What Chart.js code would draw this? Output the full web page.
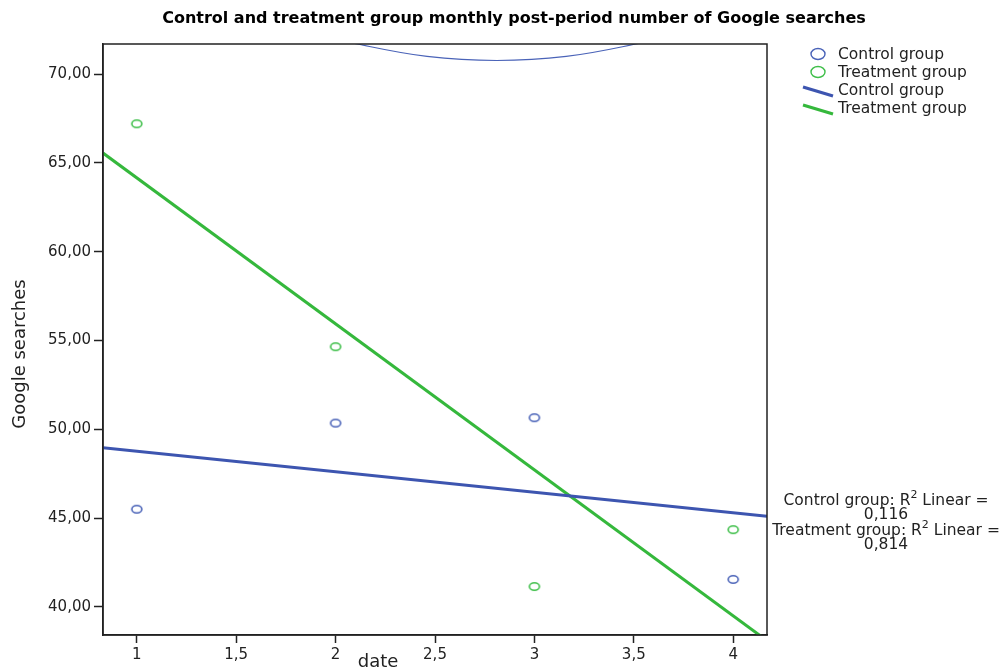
<!DOCTYPE html>
<html>
<head>
<meta charset="utf-8">
<script src="https://cdn.jsdelivr.net/npm/chart.js@4.4.1/dist/chart.umd.min.js"></script>
<style>
body{margin:0;background:#fff;}
</style>
</head>
<body>
<canvas id="chart" width="1003" height="670"></canvas>
<script>
// data
const dates=[1,2,3,4];
const controlVals=[45.5,50.35,50.65,41.55];
const treatmentVals=[67.2,54.65,41.15,44.35];
// fitted lines, ends at the plot edges
const fitX=[0.83,4.17];
const controlFit=[48.96,45.1];
const treatmentFit=[65.55,38.1];
// blue arc at the top of the plot
const arcX=[1.95,2.11,2.46,2.81,3.16,3.51,3.67];
const arcY=[72.16,71.69,70.99,70.76,70.99,71.69,72.16];
const xTicks=[1,1.5,2,2.5,3,3.5,4];
const yTicks=[40,45,50,55,60,65,70];
const controlR2='0,116';
const treatmentR2='0,814';

const blue='#4a63b8';
const green='#3fbf4a';
const blueLine='#3d55b0';
const greenLine='#35b83c';
const font='"DejaVu Sans", sans-serif';

function ring(color){
    const c=document.createElement('canvas');
    c.width=14;c.height=11;
    const g=c.getContext('2d');
    g.strokeStyle=color;g.lineWidth=1.6;
    g.beginPath();g.ellipse(7,5.5,5,3.8,0,0,Math.PI*2);g.stroke();
    return c;
}

const pts=(xs,ys)=>xs.map((x,i)=>({x:x,y:ys[i]}));

const extras={
    id:'extras',
    afterDraw(chart){
        const ctx=chart.ctx;
        const a=chart.chartArea;
        ctx.save();
        // frame
        ctx.strokeStyle='#222';
        ctx.lineWidth=1.5;
        ctx.strokeRect(a.left,a.top,a.right-a.left,a.bottom-a.top);
        // title
        ctx.fillStyle='#000';
        ctx.font='bold 16px '+font;
        ctx.textAlign='center';
        ctx.textBaseline='middle';
        ctx.fillText('Control and treatment group monthly post-period number of Google searches',514,19);
        // axis titles
        ctx.fillStyle='#222';
        ctx.font='18px '+font;
        ctx.textBaseline='top';
        ctx.fillText('date',378,653);
        ctx.save();
        ctx.translate(20,354);
        ctx.rotate(-Math.PI/2);
        ctx.textBaseline='middle';
        ctx.fillText('Google searches',0,0);
        ctx.restore();
        // legend
        ctx.font='15.5px '+font;
        ctx.textAlign='left';
        ctx.textBaseline='middle';
        ctx.lineWidth=1.4;
        ctx.strokeStyle=blue;
        ctx.beginPath();ctx.ellipse(818,54,7,5.5,0,0,Math.PI*2);ctx.stroke();
        ctx.strokeStyle=green;
        ctx.beginPath();ctx.ellipse(818,72,7,5.5,0,0,Math.PI*2);ctx.stroke();
        ctx.lineWidth=3;
        ctx.strokeStyle=blueLine;
        ctx.beginPath();ctx.moveTo(803,87);ctx.lineTo(833,96);ctx.stroke();
        ctx.strokeStyle=greenLine;
        ctx.beginPath();ctx.moveTo(803,105);ctx.lineTo(833,114);ctx.stroke();
        ctx.fillStyle='#222';
        ctx.fillText('Control group',838,55);
        ctx.fillText('Treatment group',838,73);
        ctx.fillText('Control group',838,91);
        ctx.fillText('Treatment group',838,109);
        // R2 notes
        function r2line(label,y){
            ctx.font='15.5px '+font;
            const w1=ctx.measureText(label+': R').width;
            const w3=ctx.measureText(' Linear =').width;
            ctx.font='11px '+font;
            const w2=ctx.measureText('2').width;
            const x0=886-(w1+w2+w3)/2;
            ctx.textAlign='left';
            ctx.font='15.5px '+font;
            ctx.fillText(label+': R',x0,y);
            ctx.fillText(' Linear =',x0+w1+w2,y);
            ctx.font='11px '+font;
            ctx.fillText('2',x0+w1,y-6);
        }
        r2line('Control group',501);
        ctx.font='15.5px '+font;ctx.textAlign='center';
        ctx.fillText(controlR2,886,515);
        r2line('Treatment group',531);
        ctx.font='15.5px '+font;ctx.textAlign='center';
        ctx.fillText(treatmentR2,886,545);
        ctx.restore();
    }
};

new Chart(document.getElementById('chart'),{
    type:'scatter',
    data:{
        datasets:[
            {data:pts(arcX,arcY),showLine:true,tension:0.4,borderColor:blue,borderWidth:1.2,pointRadius:0},
            {data:pts(fitX,controlFit),showLine:true,borderColor:blueLine,borderWidth:3,pointRadius:0},
            {data:pts(fitX,treatmentFit),showLine:true,borderColor:greenLine,borderWidth:3,pointRadius:0},
            {data:pts(dates,controlVals),pointStyle:ring(blue),pointRadius:6},
            {data:pts(dates,treatmentVals),pointStyle:ring(green),pointRadius:6}
        ]
    },
    options:{
        responsive:false,
        devicePixelRatio:1,
        animation:false,
        layout:{padding:{top:44,right:236,left:0,bottom:0}},
        plugins:{legend:{display:false},tooltip:{enabled:false}},
        scales:{
            x:{
                type:'linear',min:0.83,max:4.17,
                afterBuildTicks:s=>{s.ticks=xTicks.map(v=>({value:v}));},
                afterFit:s=>{s.height=35;},
                border:{color:'#222',width:1.5},
                grid:{drawOnChartArea:false,tickLength:8,tickColor:'#222',tickWidth:1.5},
                ticks:{color:'#222',padding:3,font:{family:font,size:15},
                    callback:v=>String(v).replace('.',',')}
            },
            y:{
                min:38.42,max:71.69,
                afterBuildTicks:s=>{s.ticks=yTicks.map(v=>({value:v}));},
                afterFit:s=>{s.width=103;},
                border:{color:'#222',width:1.5},
                grid:{drawOnChartArea:false,tickLength:9,tickColor:'#222',tickWidth:1.5},
                ticks:{color:'#222',padding:3,font:{family:font,size:15},
                    callback:v=>v.toFixed(2).replace('.',',')}
            }
        }
    },
    plugins:[extras]
});
</script>
</body>
</html>
